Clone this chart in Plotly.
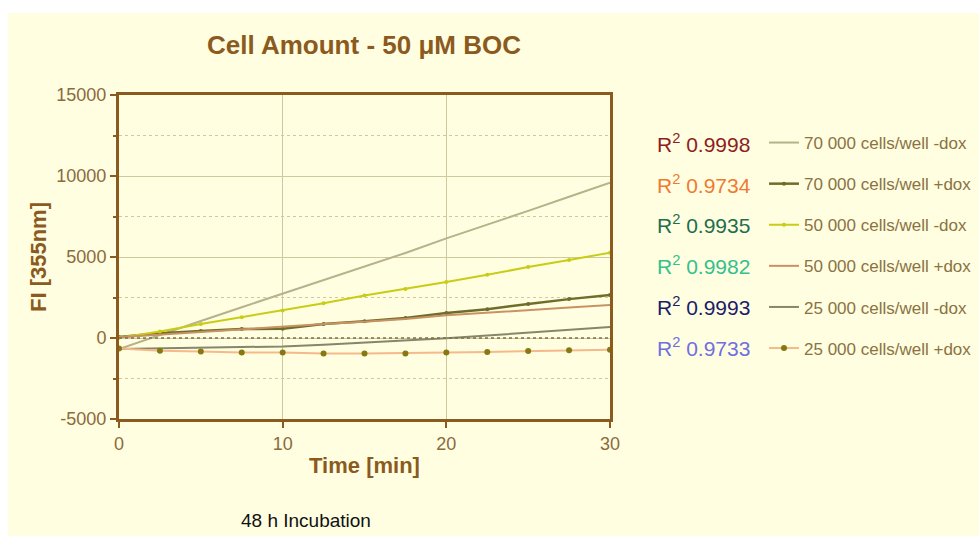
import plotly.graph_objects as go

# Time points (min)
time_min = [0, 2.5, 5, 7.5, 10, 12.5, 15, 17.5, 20, 22.5, 25, 27.5, 30]

# Fluorescence intensity readings at 355 nm
fi_70k_minus = [-680, 200, 1050, 1900, 2730, 3580, 4420, 5250, 6150, 6980, 7850, 8720, 9580]
fi_70k_plus = [60, 290, 430, 555, 570, 860, 1030, 1230, 1540, 1780, 2100, 2400, 2650]
fi_50k_minus = [20, 400, 860, 1280, 1700, 2150, 2620, 3030, 3460, 3900, 4380, 4810, 5270]
fi_50k_plus = [50, 220, 390, 550, 700, 860, 1010, 1180, 1400, 1570, 1730, 1880, 2030]
fi_25k_minus = [-680, -650, -610, -570, -520, -420, -290, -160, -20, 150, 320, 500, 680]
fi_25k_plus = [-650, -780, -840, -900, -900, -960, -960, -950, -900, -860, -800, -760, -720]

series_names = [
    "70 000 cells/well -dox",
    "70 000 cells/well +dox",
    "50 000 cells/well -dox",
    "50 000 cells/well +dox",
    "25 000 cells/well -dox",
    "25 000 cells/well +dox",
]
r2_values = ["0.9998", "0.9734", "0.9935", "0.9982", "0.9993", "0.9733"]
r2_colors = ["#8e1d22", "#f07a35", "#1f6e4e", "#35c08f", "#1c1c6a", "#6f6fe0"]

y_ticks = [-5000, 0, 5000, 10000, 15000]
y_tick_labels = ["-5000", "0", "5000", "10000", "15000"]
x_ticks = [0, 10, 20, 30]
x_tick_labels = ["0", "10", "20", "30"]

BG = "#FFFEE1"
BROWN = "#8B5A1E"
TICK_BROWN = "#8B6A3C"
GRID = "#cfc9a2"
FONT = "Arial, Liberation Sans, sans-serif"

W, H = 979, 536
L, R, T, B = 119, 369, 95, 117
PW, PH = W - L - R, H - T - B

fig = go.Figure()

styles = [
    dict(y=fi_70k_minus, mode="lines", line=dict(color="#b5b38a", width=2)),
    dict(y=fi_70k_plus, mode="lines+markers", line=dict(color="#6f6d2a", width=2.5),
         marker=dict(color="#6f6d2a", size=4)),
    dict(y=fi_50k_minus, mode="lines+markers", line=dict(color="#c9cc14", width=2),
         marker=dict(color="#c9cc14", size=4)),
    dict(y=fi_50k_plus, mode="lines", line=dict(color="#c99265", width=2)),
    dict(y=fi_25k_minus, mode="lines", line=dict(color="#86866a", width=2)),
    dict(y=fi_25k_plus, mode="lines+markers", line=dict(color="#f6b98a", width=2),
         marker=dict(color="#857a12", size=6)),
]

for i, (name, st) in enumerate(zip(series_names, styles)):
    fig.add_trace(go.Scatter(x=time_min, name=name, legendgroup=f"g{i}", **st))

# R² labels beside the legend entries
row_y = [143, 184, 224, 265, 306, 347]
for val, col, yp in zip(r2_values, r2_colors, row_y):
    fig.add_annotation(
        xref="paper", yref="paper",
        x=(655 - L) / PW, y=(H - B - yp) / PH,
        xanchor="left", yanchor="middle", showarrow=False,
        text=f"R<sup>2</sup> {val}",
        font=dict(family=FONT, size=21, color=col),
    )

fig.add_annotation(
    xref="paper", yref="paper",
    x=(306 - L) / PW, y=(H - B - 520) / PH,
    xanchor="center", yanchor="middle", showarrow=False,
    text="48 h Incubation", font=dict(family=FONT, size=19, color="#111111"),
)

# Cream panel behind the whole chart
fig.add_shape(
    type="rect", xref="paper", yref="paper", layer="below",
    x0=(8 - L) / PW, x1=(W - L) / PW,
    y0=(H - B - 536) / PH, y1=(H - B - 13) / PH,
    fillcolor=BG, line=dict(width=0),
)

# Dotted baseline at zero
fig.add_shape(
    type="line", xref="paper", yref="y", x0=0, x1=1, y0=0, y1=0,
    line=dict(color="#7e6f45", width=1.5, dash="dot"), layer="above",
)

axis_common = dict(
    showline=True, linecolor=BROWN, linewidth=3, mirror=True,
    ticks="outside", tickcolor=BROWN, tickwidth=2, ticklen=6,
    tickfont=dict(family=FONT, size=18, color=TICK_BROWN),
    gridcolor=GRID, gridwidth=1, zeroline=False,
)

fig.update_layout(
    width=W, height=H,
    margin=dict(l=L, r=R, t=T, b=B, autoexpand=False),
    paper_bgcolor="white", plot_bgcolor=BG,
    title=dict(
        text="<b>Cell Amount - 50 \u03bcM BOC</b>",
        x=364 / W, xanchor="center", y=1 - 45 / H, yanchor="middle",
        font=dict(family=FONT, size=26, color=BROWN),
    ),
    xaxis=dict(
        range=[0, 30], tickvals=x_ticks, ticktext=x_tick_labels,
        title=dict(text="<b>Time [min]</b>", standoff=6,
                   font=dict(family=FONT, size=22, color=BROWN)),
        **axis_common,
    ),
    yaxis=dict(
        range=[-5000, 15000], tickvals=y_ticks, ticktext=y_tick_labels,
        minor=dict(dtick=2500, showgrid=True, gridcolor=GRID, griddash="dot",
                   ticks="outside", ticklen=3, tickcolor=BROWN),
        title=dict(text="<b>FI [355nm]</b>", standoff=4,
                   font=dict(family=FONT, size=22, color=BROWN)),
        **axis_common,
    ),
    # inward ticks along the top and right frame
    xaxis2=dict(
        overlaying="x", side="top", range=[0, 30], tickvals=x_ticks,
        ticks="inside", ticklen=6, tickwidth=2, tickcolor=BROWN,
        showticklabels=False, showgrid=False, zeroline=False, showline=False,
    ),
    yaxis2=dict(
        overlaying="y", side="right", range=[-5000, 15000], tickvals=y_ticks,
        ticks="inside", ticklen=5, tickwidth=2, tickcolor=BROWN,
        showticklabels=False, showgrid=False, zeroline=False, showline=False,
    ),
    legend=dict(
        x=(764 - L) / PW, y=(H - B - 125) / PH, xanchor="left", yanchor="top",
        bgcolor="rgba(0,0,0,0)", tracegroupgap=16,
        font=dict(family=FONT, size=17, color="#8b7242"),
    ),
    showlegend=True,
)

fig.write_html("out.html")
